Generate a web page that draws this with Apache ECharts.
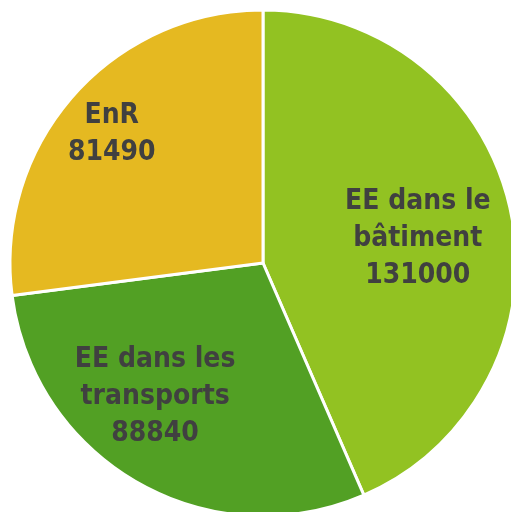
<!DOCTYPE html>
<html>
<head>
<meta charset="utf-8">
<script src="https://cdn.jsdelivr.net/npm/echarts@6/dist/echarts.min.js"></script>
<style>
  html, body { margin: 0; padding: 0; background: #fff; }
  #chart { width: 511px; height: 512px; }
</style>
</head>
<body>
<div id="chart"></div>
<script>
const categories = ['EE dans le\nbâtiment', 'EE dans les\ntransports', 'EnR']
const values = [131000, 88840, 81490]
const colors = ['#92C222', '#52A024', '#E5B921']
// nudges to match the hand-placed labels of the original
const labelOffsets = [[28, 2], [-44, 21], [-54, -43]]

const chart = echarts.init(document.getElementById('chart'))

chart.setOption({
  animation: false,
  series: [
    {
      type: 'pie',
      center: [263, 263],
      radius: 253,
      startAngle: 90,
      clockwise: true,
      itemStyle: { borderColor: '#fff', borderWidth: 3 },
      label: {
        show: true,
        position: 'inside',
        formatter: '{b}\n{c}',
        color: '#404040',
        fontFamily: '"DejaVu Sans Condensed", "DejaVu Sans", sans-serif',
        fontWeight: 'bold',
        fontSize: 28,
        lineHeight: 37,
        align: 'center'
      },
      labelLine: { show: false },
      data: categories.map((name, i) => ({
        name,
        value: values[i],
        itemStyle: { color: colors[i] },
        label: { offset: labelOffsets[i] }
      }))
    }
  ]
})
</script>
</body>
</html>
